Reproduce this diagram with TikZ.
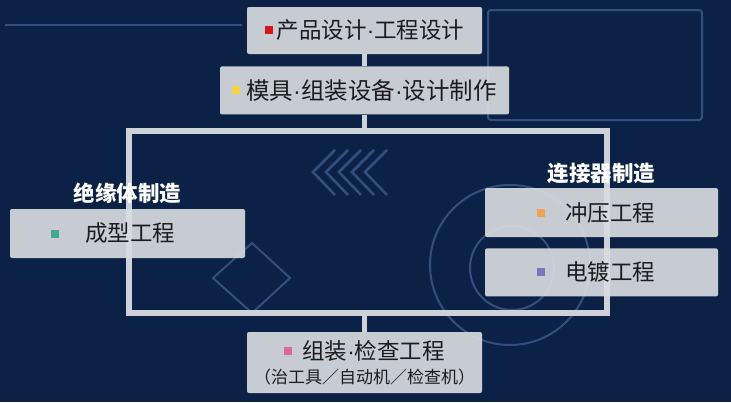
\documentclass[tikz,border=0pt]{standalone}
\usepackage{fontspec}
\newfontfamily\cjk{Noto Sans CJK SC}
\newfontfamily\latin{Liberation Sans}
\usetikzlibrary{positioning}
\definecolor{bgnavy}{HTML}{0B2145}
\definecolor{boxgray}{HTML}{D8DBE0}
\definecolor{boxtext}{HTML}{1C1C1E}
\definecolor{framegray}{HTML}{CDD2D9}
\definecolor{decoblue}{HTML}{33507C}
\definecolor{sqred}{HTML}{D7141E}
\definecolor{sqyellow}{HTML}{F2D34A}
\definecolor{sqteal}{HTML}{45A894}
\definecolor{sqorange}{HTML}{F2A155}
\definecolor{sqpurple}{HTML}{7C74C6}
\definecolor{sqpink}{HTML}{D9699F}
\newcommand\bul[1]{\textcolor{#1}{\rule[\dimexpr0.38em-4pt\relax]{8pt}{8pt}}}
\newcommand\md{{\latin ·}}
\tikzset{
    box/.style ={
        shape=rectangle,
        rounded corners=2pt,
        fill=boxgray,
        fill opacity=0.92,
        text opacity=1,
        text=boxtext,
        inner sep=0pt,
        font=\cjk\fontsize{22.5}{27}\selectfont
    },
    title/.style ={
        inner sep=0pt,
        text=white,
        font=\cjk\bfseries\fontsize{21.5}{26}\selectfont
    },
    bullet/.style ={
        fill=#1,
        inner sep=0pt,
        minimum size=8pt
    },
    frame/.style ={
        draw=framegray,
        line width=6pt
    },
    link/.style ={
        draw=framegray,
        line width=5pt
    },
    deco/.style ={
        draw=decoblue,
        line width=2pt
    }
}

\begin{document}
\begin{tikzpicture}[x=1pt,y=-1pt]
    \fill[bgnavy] (0,0) rectangle (731,402);
    \useasboundingbox (0,0) rectangle (731,402);
    % background
    \draw[deco,rounded corners=3pt] (488,10) rectangle (702,120);
    \draw[deco] (5,25) -- (242,25);
    \draw[deco] (510,265) circle (80pt);
    \draw[deco] (512,268) circle (42pt);
    \draw[deco] (252,243) -- (290,278) -- (252,313) -- (213,278) -- cycle;
    \foreach \dx in {0,13,...,52}
        \draw[deco,line width=2.5pt] (335+\dx,150) -- (313+\dx,172) -- (335+\dx,195);
    % frame
    \coordinate (ftl) at (129,131);
    \coordinate (fbr) at (607,313);
    \draw[frame] (ftl) rectangle (fbr);
    % boxes
    \node[box,minimum width=235pt,minimum height=47pt] (design) at (364.5,30.5)
        {\bul{sqred}\hspace{4pt}产品设计\md 工程设计};
    \node[box,minimum width=289pt,minimum height=48pt,below=12pt of design,
        font=\cjk\fontsize{23.5}{28}\selectfont] (mold)
        {\bul{sqyellow}\hspace{6pt}模具\md 组装设备\md 设计制作};
    \node[box,minimum width=235pt,minimum height=49pt] (molding) at (127.5,233.5)
        {\hspace{5pt}成型工程};
    \node[box,minimum width=233pt,minimum height=49pt] (stamping) at (601.5,212.5)
        {\hspace{17pt}冲压工程};
    \node[box,minimum width=233pt,minimum height=48pt,below=11pt of stamping] (plating)
        {\hspace{17pt}电镀工程};
    \node[box,minimum width=235pt,minimum height=61pt,align=center] (assembly) at (364.5,362.5)
        {\bul{sqpink}\hspace{10pt}组装\md 检查工程\\[-3pt]
         {\fontsize{17}{20}\selectfont（治工具／自动机／检查机）}};
    \node[bullet=sqteal,right=41pt of molding.west] (dotmolding) {};
    \node[bullet=sqorange,right=52pt of stamping.west] (dotstamping) {};
    \node[bullet=sqpurple,right=52pt of plating.west] (dotplating) {};
    % titles
    \node[title,above=5pt of molding] (insulator) {绝缘体制造};
    \node[title,above=4pt of stamping] (connector) {连接器制造};
    % links
    \draw[link] (design) -- (mold);
    \draw[link] (mold) -- (mold.south |- ftl);
    \draw[link] (assembly.north |- fbr) -- (assembly);
\end{tikzpicture}
\end{document}
